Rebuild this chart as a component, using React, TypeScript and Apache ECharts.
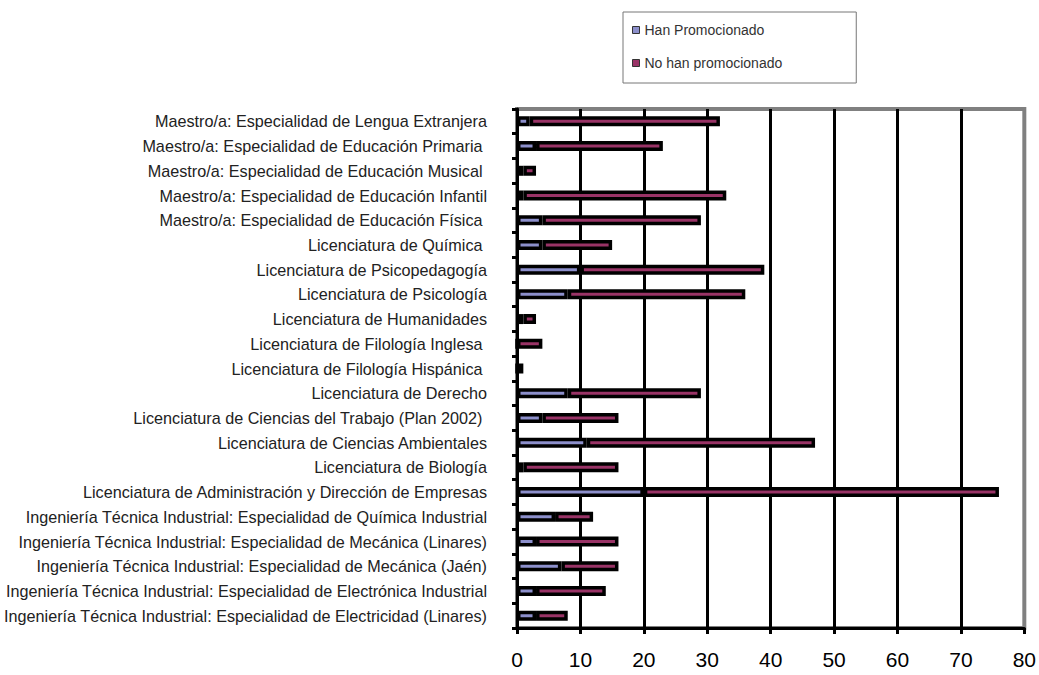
import React, { useEffect, useRef } from "react";
import * as echarts from "echarts";

const categories: string[] = [
  "Ingeniería Técnica Industrial: Especialidad de Electricidad (Linares)",
  "Ingeniería Técnica Industrial: Especialidad de Electrónica Industrial",
  "Ingeniería Técnica Industrial: Especialidad de Mecánica (Jaén)",
  "Ingeniería Técnica Industrial: Especialidad de Mecánica (Linares)",
  "Ingeniería Técnica Industrial: Especialidad de Química Industrial",
  "Licenciatura de Administración y Dirección de Empresas",
  "Licenciatura de Biología",
  "Licenciatura de Ciencias Ambientales",
  "Licenciatura de Ciencias del Trabajo (Plan 2002) ",
  "Licenciatura de Derecho",
  "Licenciatura de Filología Hispánica ",
  "Licenciatura de Filología Inglesa ",
  "Licenciatura de Humanidades",
  "Licenciatura de Psicología",
  "Licenciatura de Psicopedagogía",
  "Licenciatura de Química ",
  "Maestro/a: Especialidad de Educación Física ",
  "Maestro/a: Especialidad de Educación Infantil",
  "Maestro/a: Especialidad de Educación Musical ",
  "Maestro/a: Especialidad de Educación Primaria ",
  "Maestro/a: Especialidad de Lengua Extranjera",
];

const hanPromocionado: number[] = [3, 3, 7, 3, 6, 20, 1, 11, 4, 8, 0, 0, 1, 8, 10, 4, 4, 1, 1, 3, 2];
const noHanPromocionado: number[] = [5, 11, 9, 13, 6, 56, 15, 36, 12, 21, 1, 4, 2, 28, 29, 11, 25, 32, 2, 20, 30];

const seriesNames: string[] = ["Han Promocionado", "No han promocionado"];
const xTicks = { min: 0, max: 80, interval: 10 };

export default function App() {
  const ref = useRef<HTMLDivElement>(null);
  useEffect(() => {
    if (!ref.current) return;
    const chart = echarts.init(ref.current, null, { renderer: "svg" });
    chart.setOption({
      animation: false,
      backgroundColor: "#ffffff",
      textStyle: { fontFamily: "Liberation Sans, Arial, sans-serif" },
      legend: {
        orient: "vertical",
        left: 623,
        top: 12,
        padding: [11, 74, 13, 9],
        itemGap: 19,
        itemWidth: 7,
        itemHeight: 7,
        icon: "rect",
        borderColor: "#777777",
        borderWidth: 1,
        backgroundColor: "#ffffff",
        itemStyle: { borderColor: "#333333", borderWidth: 1 },
        textStyle: { fontSize: 14, color: "#333333", fontFamily: "Liberation Sans, Arial, sans-serif" },
        data: seriesNames,
      },
      grid: {
        left: 517,
        top: 109,
        right: 14,
        bottom: 47,
        containLabel: false,
        show: true,
        borderColor: "#808080",
        borderWidth: 4,
        backgroundColor: "#ffffff",
      },
      xAxis: {
        type: "value",
        min: xTicks.min,
        max: xTicks.max,
        interval: xTicks.interval,
        axisLine: { show: true, lineStyle: { color: "#000000", width: 3 } },
        axisTick: { show: true, length: 6, lineStyle: { color: "#000000", width: 3 } },
        axisLabel: { fontSize: 21, color: "#000000", margin: 21, fontFamily: "Liberation Sans, Arial, sans-serif" },
        splitLine: { show: true, showMaxLine: false, lineStyle: { color: "#000000", width: 3 } },
      },
      yAxis: {
        type: "category",
        data: categories,
        axisLine: { show: true, lineStyle: { color: "#000000", width: 3 } },
        axisTick: { show: true, length: 5, lineStyle: { color: "#000000", width: 3 } },
        axisLabel: { fontSize: 16.2, color: "#222222", margin: 30, fontFamily: "Liberation Sans, Arial, sans-serif" },
        splitLine: { show: false },
      },
      series: [
        {
          name: seriesNames[0],
          type: "bar",
          stack: "total",
          barWidth: 10,
          data: hanPromocionado,
          itemStyle: { color: "#8C8FCB", borderColor: "#000000", borderWidth: 3.5 },
        },
        {
          name: seriesNames[1],
          type: "bar",
          stack: "total",
          barWidth: 10,
          data: noHanPromocionado,
          itemStyle: { color: "#993366", borderColor: "#000000", borderWidth: 3.5 },
        },
      ],
    });
    return () => chart.dispose();
  }, []);
  return <div ref={ref} style={{ width: 1039, height: 675, position: "absolute", left: 0, top: 0 }} />;
}
